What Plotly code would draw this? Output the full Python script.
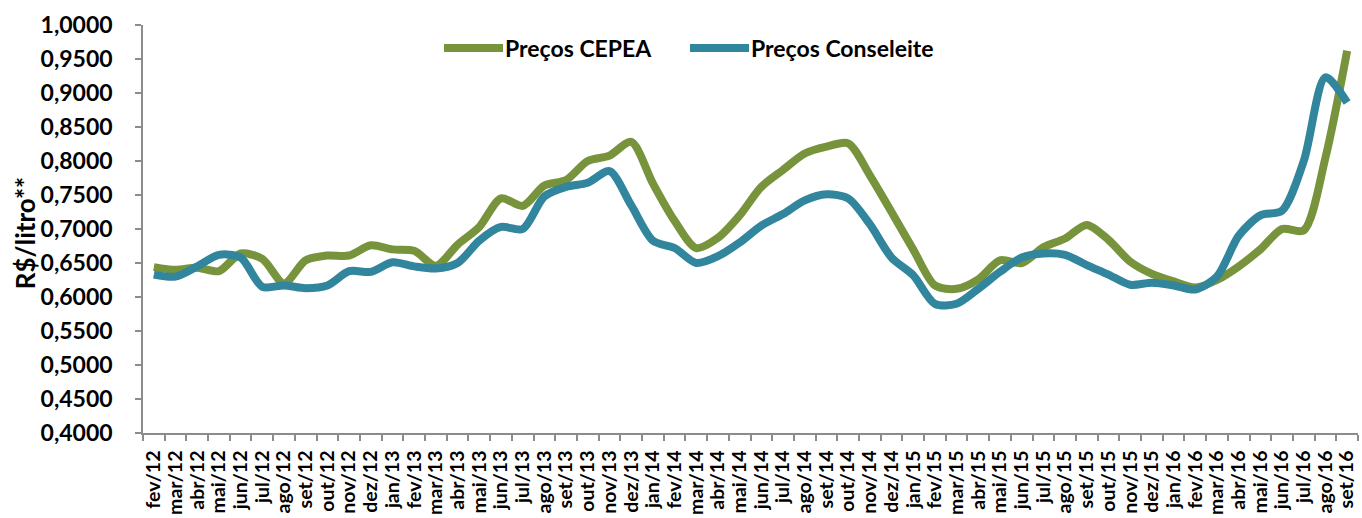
import plotly.graph_objects as go

months = ["fev/12","mar/12","abr/12","mai/12","jun/12","jul/12","ago/12","set/12","out/12","nov/12","dez/12",
          "jan/13","fev/13","mar/13","abr/13","mai/13","jun/13","jul/13","ago/13","set/13","out/13","nov/13","dez/13",
          "jan/14","fev/14","mar/14","abr/14","mai/14","jun/14","jul/14","ago/14","set/14","out/14","nov/14","dez/14",
          "jan/15","fev/15","mar/15","abr/15","mai/15","jun/15","jul/15","ago/15","set/15","out/15","nov/15","dez/15",
          "jan/16","fev/16","mar/16","abr/16","mai/16","jun/16","jul/16","ago/16","set/16"]

precos_cepea = [0.644,0.640,0.643,0.638,0.664,0.656,0.620,0.654,0.661,0.661,0.676,
                0.670,0.668,0.646,0.677,0.703,0.745,0.734,0.764,0.772,0.800,0.808,0.828,
                0.767,0.712,0.672,0.687,0.720,0.762,0.787,0.811,0.821,0.826,0.779,0.725,
                0.670,0.617,0.612,0.626,0.654,0.650,0.673,0.686,0.706,0.684,0.652,0.634,
                0.623,0.614,0.625,0.645,0.670,0.700,0.698,0.805,0.962]

precos_conseleite = [0.633,0.630,0.645,0.662,0.658,0.615,0.617,0.613,0.617,0.638,0.637,
                     0.651,0.645,0.642,0.650,0.683,0.703,0.700,0.748,0.762,0.768,0.785,0.735,
                     0.683,0.672,0.650,0.660,0.680,0.705,0.722,0.742,0.751,0.745,0.707,0.658,
                     0.632,0.590,0.590,0.612,0.637,0.658,0.664,0.662,0.647,0.633,0.618,0.621,
                     0.617,0.611,0.630,0.690,0.720,0.727,0.800,0.923,0.886]

y_ticks = [0.40,0.45,0.50,0.55,0.60,0.65,0.70,0.75,0.80,0.85,0.90,0.95,1.00]

GREEN = "#77933C"
BLUE = "#31859C"
AXIS = "#8C8C8C"
FONT = "Lato"

fig = go.Figure()
fig.add_trace(go.Scatter(x=months, y=precos_cepea, mode="lines", name="Preços CEPEA",
                         line=dict(color=GREEN, width=8, shape="spline", smoothing=0.8)))
fig.add_trace(go.Scatter(x=months, y=precos_conseleite, mode="lines", name="Preços Conseleite",
                         line=dict(color=BLUE, width=8, shape="spline", smoothing=0.8)))

fig.update_layout(
    width=1362, height=518,
    margin=dict(l=143, r=4, t=25, b=85),
    paper_bgcolor="white", plot_bgcolor="white",
    separators=",.",
    showlegend=False,
    font=dict(family=FONT, color="black"),
)

fig.update_xaxes(
    type="category", range=[-0.5, len(months) - 0.5],
    tickmode="array", tickvals=months, ticktext=months,
    showline=True, linecolor=AXIS, linewidth=1.5,
    ticks="outside", tickson="boundaries", ticklen=6, tickcolor=AXIS, tickwidth=1.5,
    tickangle=-90, tickfont=dict(family=FONT, size=19.5, color="black", weight="bold"),
    ticklabelstandoff=8,
    showgrid=False, zeroline=False, automargin=False,
)
fig.update_yaxes(
    range=[0.4, 1.0], tickvals=y_ticks, tickformat=".4f",
    showline=True, linecolor=AXIS, linewidth=1.5,
    ticks="outside", ticklen=6, tickcolor=AXIS, tickwidth=1.5,
    tickfont=dict(family=FONT, size=23, color="black", weight="bold"),
    ticklabelstandoff=18,
    showgrid=False, zeroline=False, automargin=False,
)

# y-axis title
fig.add_annotation(text="R$/litro**", xref="paper", yref="paper", x=-0.097, y=0.49,
                   xanchor="center", yanchor="middle", textangle=-90, showarrow=False,
                   font=dict(family=FONT, size=26, color="black", weight="bold"))

# custom legend (line swatches + labels)
W = 1362 - 143 - 4
H = 518 - 25 - 85
def px_x(px):
    return (px - 143) / W
def px_y(py):
    return (433 - py) / H

legend_y = 48
for x0, x1, color, label, tx in [(444, 503, GREEN, "Preços CEPEA", 503),
                                  (690, 749, BLUE, "Preços Conseleite", 749)]:
    fig.add_shape(type="line", xref="paper", yref="paper",
                  x0=px_x(x0), x1=px_x(x1), y0=px_y(legend_y), y1=px_y(legend_y),
                  line=dict(color=color, width=8))
    fig.add_annotation(text=label, xref="paper", yref="paper", x=px_x(tx), y=px_y(legend_y),
                       xanchor="left", yanchor="middle", showarrow=False,
                       font=dict(family=FONT, size=23, color="black", weight="bold"))

fig.write_html("out.html", config={"displayModeBar": False},
               post_script="document.body.style.margin='0px';document.body.style.overflow='hidden';")
